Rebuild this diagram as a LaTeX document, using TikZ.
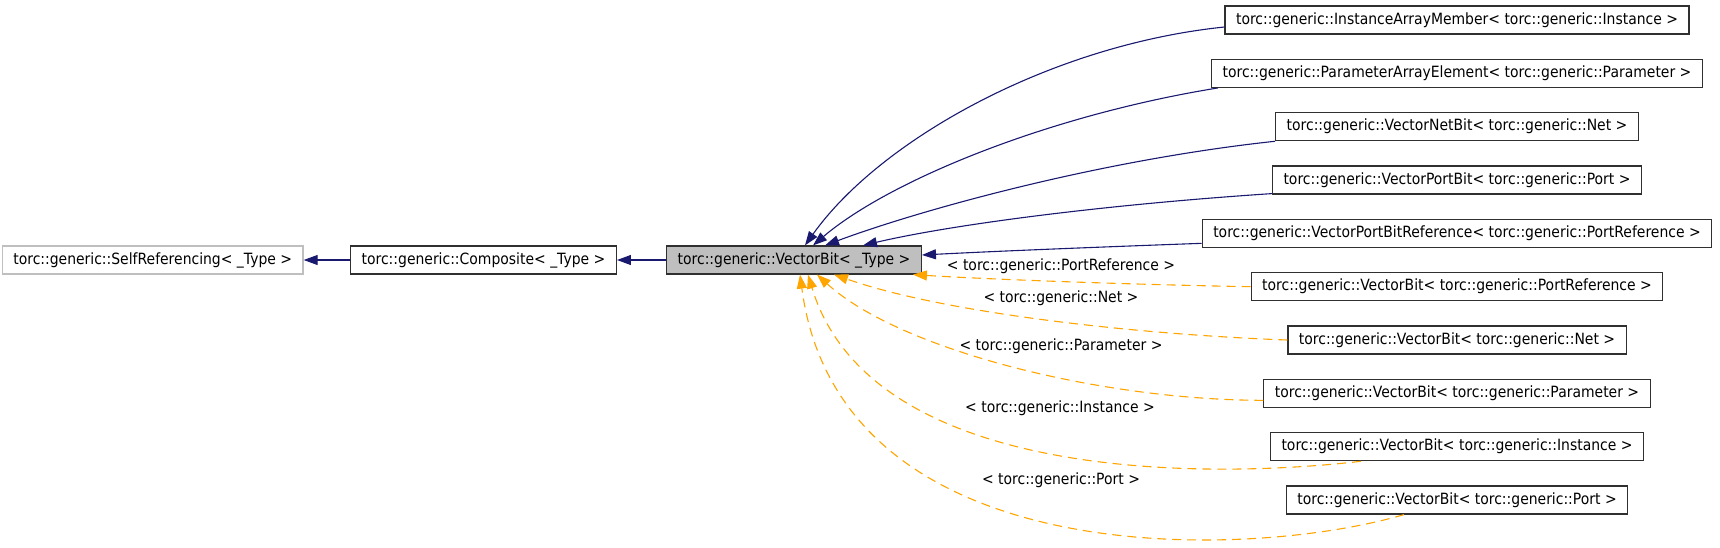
\documentclass[tikz,border=0pt]{standalone}
\usepackage{fontspec}
\setmainfont{DejaVu Sans}[FakeStretch=0.9]
\usetikzlibrary{arrows.meta}
\definecolor{navy}{HTML}{191970}
\definecolor{orng}{HTML}{FFA500}
\definecolor{lgray}{HTML}{BFBFBF}
\definecolor{bordr}{HTML}{303030}
\begin{document}
\begin{tikzpicture}[x=1pt,y=-1pt,
  box/.style={draw=bordr,line width=1.2pt,minimum height=28pt,inner xsep=11pt,inner ysep=0pt,font=\fontsize{15.5}{18}\selectfont,anchor=center},
  lbl/.style={font=\fontsize{15.5}{18}\selectfont,inner sep=0pt},
  inh/.style={draw=navy,line width=1.1pt,-{Triangle[length=14pt,width=10pt]}},
  tmpl/.style={draw=orng,line width=1.1pt,dash pattern=on 9pt off 6pt,-{Triangle[length=14pt,width=10pt]}}]
\useasboundingbox (0,0) rectangle (1720,547);
% left column
\node[box,draw=lgray] (selfref) at (152.7,260) {torc::generic::SelfReferencing< \_Type >};
\node[box] (composite) at (483.5,260) {torc::generic::Composite< \_Type >};
\node[box,fill=lgray] (vb) at (794,260) {torc::generic::VectorBit< \_Type >};
% right column
\node[box] (iam) at (1457,20) {torc::generic::InstanceArrayMember< torc::generic::Instance >};
\node[box] (pae) at (1457,73.33) {torc::generic::ParameterArrayElement< torc::generic::Parameter >};
\node[box] (vnb) at (1457,126.67) {torc::generic::VectorNetBit< torc::generic::Net >};
\node[box] (vpb) at (1457,180) {torc::generic::VectorPortBit< torc::generic::Port >};
\node[box] (vpbr) at (1457,233.33) {torc::generic::VectorPortBitReference< torc::generic::PortReference >};
\node[box] (vbpr) at (1457,286.67) {torc::generic::VectorBit< torc::generic::PortReference >};
\node[box] (vbnet) at (1457,340) {torc::generic::VectorBit< torc::generic::Net >};
\node[box] (vbparam) at (1457,393.33) {torc::generic::VectorBit< torc::generic::Parameter >};
\node[box] (vbinst) at (1457,446.67) {torc::generic::VectorBit< torc::generic::Instance >};
\node[box] (vbport) at (1457,500) {torc::generic::VectorBit< torc::generic::Port >};
% labels
\node[lbl] (lpr) at (1061,266.7) {< torc::generic::PortReference >};
\node[lbl] (lnet) at (1061,298) {< torc::generic::Net >};
\node[lbl] (lparam) at (1061,346.7) {< torc::generic::Parameter >};
\node[lbl] (linst) at (1060,408.3) {< torc::generic::Instance >};
\node[lbl] (lport) at (1061,480) {< torc::generic::Port >};
% inheritance edges
\draw[inh] (composite.west) -- (selfref.east);
\draw[inh] (vb.west) -- (composite.east);
\draw[inh] ([yshift=-7pt]iam.west) .. controls (1050,45) and (880,140) .. ([xshift=11pt]vb.north);
\draw[inh] ([xshift=7pt]pae.south west) .. controls (1050,115) and (890,180) .. ([xshift=19pt]vb.north);
\draw[inh] (vnb.south west) .. controls (1100,160) and (920,210) .. ([xshift=31pt]vb.north);
\draw[inh] ([yshift=1pt]vpb.south west) .. controls (1100,205) and (950,225) .. ([xshift=69pt]vb.north);
\draw[inh] ([yshift=-10pt]vpbr.west) .. controls (1100,247) and (1000,251) .. ([yshift=5pt]vb.east);
% template edges
\draw[tmpl] (vbpr.west) .. controls (1150,285) and (1000,280) .. ([xshift=-9pt]vb.south east);
\draw[tmpl] (vbnet.west) .. controls (1150,335) and (950,315) .. ([xshift=40pt]vb.south);
\draw[tmpl] ([yshift=-7pt]vbparam.west) .. controls (1100,400) and (900,350) .. ([xshift=23pt]vb.south);
\draw[tmpl] ([xshift=-96pt]vbinst.south) .. controls (1200,480) and (870,480) .. ([xshift=14pt]vb.south);
\draw[tmpl] ([xshift=-53pt]vbport.south) .. controls (1250,560) and (840,575) .. ([xshift=6pt]vb.south);
\end{tikzpicture}
\end{document}
